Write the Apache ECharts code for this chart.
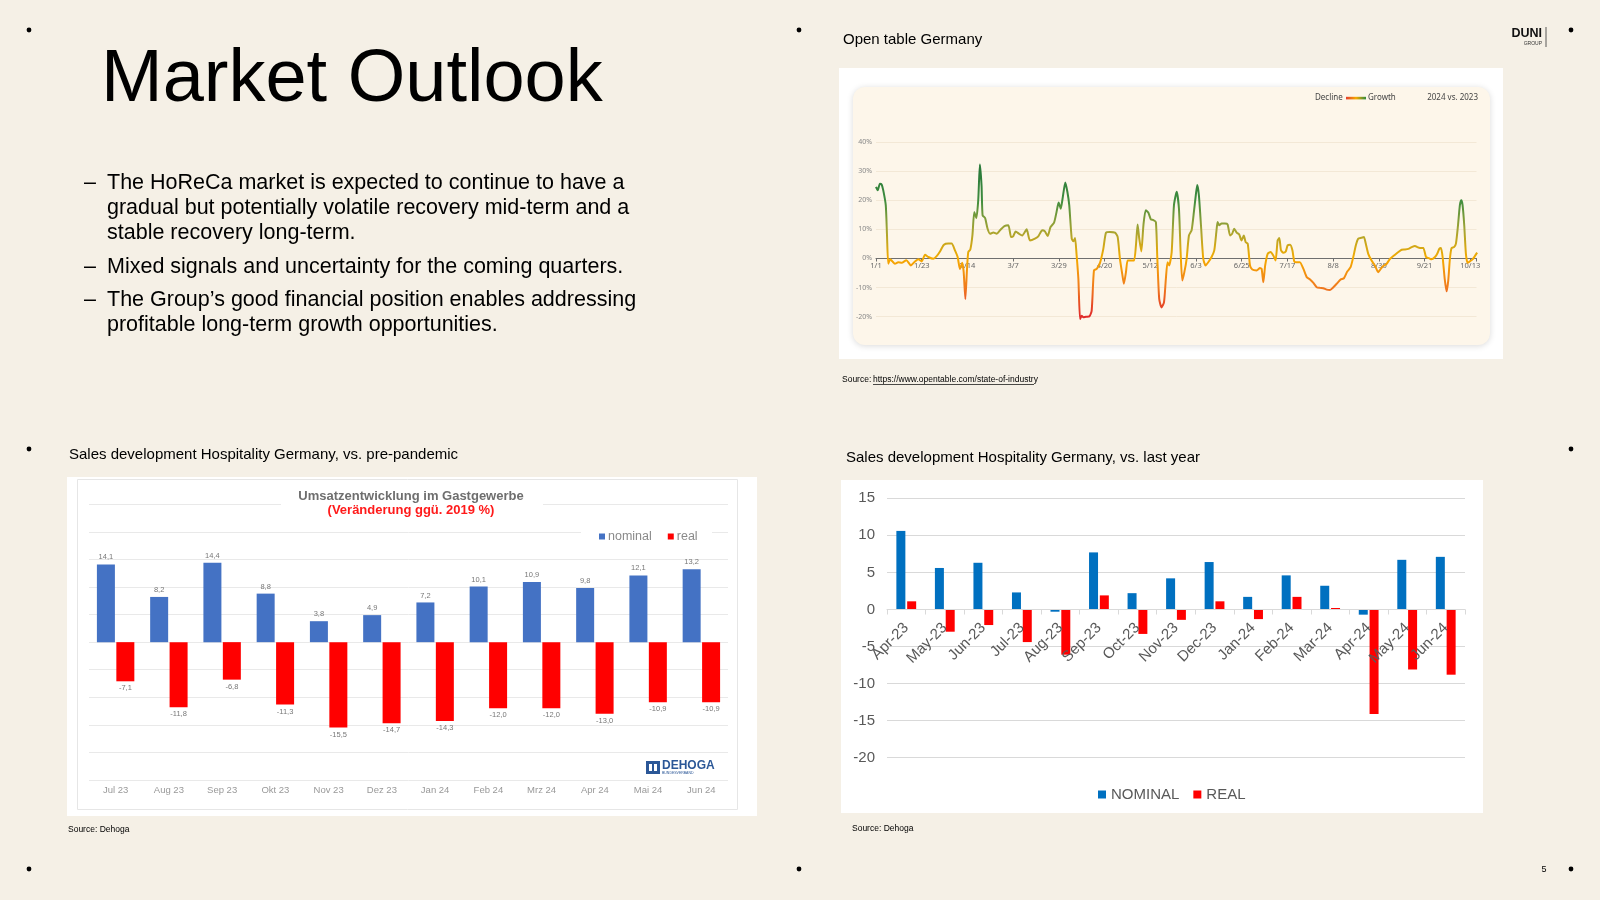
<!DOCTYPE html>
<html><head><meta charset="utf-8">
<script src="https://cdn.jsdelivr.net/npm/echarts@6/dist/echarts.min.js"></script>
<style>html,body{margin:0;padding:0;background:#f5f0e6;}#c{width:1600px;height:900px;}</style>
</head><body><div id="c"></div>
<script>
// ---------- Open table Germany (2024 vs. 2023, % change, by day of year) ----------
const otTickLabels = ['1/1','1/23','2/14','3/7','3/29','4/20','5/12','6/3','6/25','7/17','8/8','8/30','9/21','10/13'];
const otDays = [0,0.8,1.9,2.7,3.5,4.7,5.3,5.9,6.9,7.9,9.1,10.7,12.4,14.6,16.8,18.4,20.4,22,23.6,25.2,27.6,29.2,30.8,32.7,34.8,36.4,38,39.3,40.4,41.5,42.2,43,43.8,44.4,45.4,46.4,47.3,48.3,49.2,50,50.8,51.3,52.5,53.7,54.9,56.5,58.1,59.7,61.8,63.7,65,66.1,67.2,68.8,70.4,72.5,74.1,76.5,78.1,80,81.3,82.6,84,85.7,86.9,87.9,88.9,89.8,91.1,92.1,93,94.2,95,95.8,96.5,97.4,98.2,99,99.8,101,102.7,103.8,104.9,106.2,107.8,109.4,110.7,112.6,115,116.3,117.4,118.5,119.3,120.3,121.1,122.6,124.2,125.1,125.9,126.7,127.7,128.7,129.8,131.1,132.3,133.5,134.7,135.4,136.3,137.4,138.6,139.5,140.3,141.1,142.3,143.4,144.7,145.8,146.6,147.4,148.4,149.5,150.6,151.9,153,153.9,154.6,155.4,156.4,157.5,158.6,159.9,161.5,162.8,163.8,164.4,165.2,166.3,167.9,169.2,170.4,171.4,172.4,173.6,174.8,175.9,177,177.9,178.9,180,181.1,183.2,184.8,185.6,186.4,187.3,188.5,189.9,191.2,192.3,193.3,194.1,194.9,196,197.2,198.1,199.3,200.4,201.3,202.4,204,205.7,207.3,208.9,210.5,212.1,213.7,215.3,216.9,218.5,220.1,221.7,223.6,225.2,226.8,228.4,229.7,231,232.1,233.6,234.8,235.7,236.9,238.5,240.1,241.7,242.9,244.1,245.8,247.4,249.3,251.4,253,254.6,256.2,257.8,259.4,260.5,261.8,263.4,264.7,266.1,267.4,269,270.1,271.1,271.9,272.7,273.7,274.6,275.4,276.2,277,278.2,279.1,280.1,281,281.7,282.3,283.1,283.9,284.7,285.8,287.1,288.2,289.3];
const otValues = [24.6,23.4,25.7,25.4,23.4,18.3,7.9,-1.8,-0.3,-1.0,-1.8,-1.3,-1.5,-0.6,-2.4,-1.3,-0.3,-1.0,1.3,0.5,-0.1,0.8,2.4,4.7,5.1,5.1,2.8,0.5,-3.6,-1.5,-4.7,-13.9,-3.6,2.2,3.1,7.9,16,13.9,20,32.3,25,14.8,13.9,10.2,8.5,8.9,8.5,9.7,11.1,11.4,7.4,7.7,9.3,8.5,7.9,10.0,6.2,6.8,7.6,9.7,9.3,7.7,10.8,12.3,16.0,19.2,17.1,20.6,26.1,22.9,18.3,6.8,5.9,7.0,1.6,-7.0,-20.8,-19.7,-20.2,-20.0,-19.9,-17.9,-4.1,-3.6,-1.5,3.3,8.9,9.1,8.9,7.4,-0.1,-5.3,-8.7,-4.7,-0.7,-0.7,-0.7,4.5,11.7,6.8,2.4,11.4,16.6,15.7,13.4,13.2,12.5,-0.1,-13.9,-16.8,-15.1,-7.0,-1.3,-2.4,2.2,18.3,22.9,17.1,2.2,-7.6,-4.7,-0.1,7.9,9.7,16,21.7,25.2,21.7,11.4,-0.1,-2.4,-1.3,0.5,2.8,9.1,12.5,11.4,12.0,12.0,11.7,7.9,8.5,10.2,8.9,8.2,6.2,7.9,5.6,5.1,-2.4,-3.8,-4.1,-3.3,-3.6,-8.2,-2.4,1.6,2.2,1.0,-0.7,6.2,7.0,2.8,2.0,2.4,4.5,4.7,2.8,-1.0,-1.3,-1.3,-3.6,-6.4,-7.2,-8.4,-9.9,-10.1,-10.2,-10.7,-10.8,-9.9,-8.7,-7.2,-6.8,-4.5,-3.0,0.5,4.7,6.8,7.1,7.4,5.1,1.6,-0.7,-2.4,-4.7,-3.6,-2.6,-1.8,-0.1,1.0,2.2,3.0,3.1,3.3,3.9,4.3,3.9,3.6,3.6,0.5,0.1,-0.3,0.5,1.6,3.3,3.6,0.5,-7.0,-11.3,-7.6,-0.1,3.6,3.9,5.1,11.4,18.3,20.0,18.3,11.4,1.6,-1.5,-1.0,-0.3,0.8,2.0];

// ---------- Dehoga: Umsatzentwicklung im Gastgewerbe (vs. 2019 %) ----------
const dhCategories = ['Jul 23','Aug 23','Sep 23','Okt 23','Nov 23','Dez 23','Jan 24','Feb 24','Mrz 24','Apr 24','Mai 24','Jun 24'];
const dhNominal = [14.1,8.2,14.4,8.8,3.8,4.9,7.2,10.1,10.9,9.8,12.1,13.2];
const dhReal = [-7.1,-11.8,-6.8,-11.3,-15.5,-14.7,-14.3,-12.0,-12.0,-13.0,-10.9,-10.9];

// ---------- Sales development vs. last year ----------
const lyCategories = ['Apr-23','May-23','Jun-23','Jul-23','Aug-23','Sep-23','Oct-23','Nov-23','Dec-23','Jan-24','Feb-24','Mar-24','Apr-24','May-24','Jun-24'];
const lyNominal = [10.6,5.6,6.3,2.3,-0.3,7.7,2.2,4.2,6.4,1.7,4.6,3.2,-0.7,6.7,7.1];
const lyReal = [1.1,-3.0,-2.1,-4.4,-6.1,1.9,-3.3,-1.4,1.1,-1.3,1.7,0.2,-14.1,-8.1,-8.8];

const FF = "'Liberation Sans', Arial, sans-serif";
const OTF = "'Noto Sans', 'DejaVu Sans', sans-serif";

function txt(text, x, y, size, opt) {
  opt = opt || {};
  return {
    type: 'text', z: 100,
    style: {
      text: text, x: x, y: y,
      fill: opt.fill || '#000',
      font: (opt.weight || 'normal') + ' ' + size + 'px ' + (opt.family || FF),
      textAlign: opt.align || 'left', align: opt.align || 'left',
      textVerticalAlign: 'middle', verticalAlign: 'middle'
    }
  };
}
function rect(x, y, w, h, style, z, r) {
  return { type: 'rect', z: z === undefined ? -10 : z, shape: { x: x, y: y, width: w, height: h, r: r || 0 }, style: style };
}
function dot(x, y) { return { type: 'circle', z: 100, shape: { cx: x, cy: y, r: 2.4 }, style: { fill: '#000' } }; }

const BF = 21.5;
const graphics = [
  // panels
  rect(839, 68, 664, 291, { fill: '#ffffff' }, -20),
  rect(853, 87, 637, 258, { fill: '#fdf6ea', shadowBlur: 6, shadowColor: 'rgba(0,0,0,0.15)', shadowOffsetY: 1 }, -15, 12),
  rect(67, 477, 690, 339, { fill: '#ffffff' }, -20),
  rect(77.5, 479.5, 660, 330, { fill: 'none', stroke: '#e6e6e6', lineWidth: 1 }, -15),
  rect(841, 480, 642, 333, { fill: '#ffffff' }, -20),
  // covers behind dehoga title and legend (interrupt gridlines)
  rect(281, 486, 262, 30, { fill: '#ffffff' }, 1),
  rect(581, 525, 131, 14, { fill: '#ffffff' }, 1),
  // slide text
  txt('Market Outlook', 101, 81, 74),
  txt('–', 84, 183.5, BF), txt('The HoReCa market is expected to continue to have a', 107, 183.5, BF),
  txt('gradual but potentially volatile recovery mid-term and a', 107, 208.5, BF),
  txt('stable recovery long-term.', 107, 233, BF),
  txt('–', 84, 267.5, BF), txt('Mixed signals and uncertainty for the coming quarters.', 107, 267.5, BF),
  txt('–', 84, 300, BF), txt('The Group’s good financial position enables addressing', 107, 300, BF),
  txt('profitable long-term growth opportunities.', 107, 325, BF),
  txt('Open table Germany', 843, 39.5, 15),
  txt('Source: ', 842, 380, 8.5),
  txt('https://www.opentable.com/state-of-industry', 873, 380, 8.5),
  { type: 'line', z: 100, shape: { x1: 873, y1: 384.5, x2: 1034, y2: 384.5 }, style: { stroke: '#000', lineWidth: 0.7 } },
  txt('Sales development Hospitality Germany, vs. pre-pandemic', 69, 455, 15),
  txt('Sales development Hospitality Germany, vs. last year', 846, 458, 15),
  txt('Source: Dehoga', 68, 830, 8.5),
  txt('Source: Dehoga', 852, 829, 8.5),
  txt('5', 1544, 870, 9, { align: 'center' }),
  // DUNI logo
  txt('DUNI', 1542, 34, 12.5, { align: 'right', weight: 'bold', fill: '#111' }),
  txt('GROUP', 1542, 43.5, 5, { align: 'right', fill: '#333' }),
  { type: 'line', z: 100, shape: { x1: 1546, y1: 27, x2: 1546, y2: 47 }, style: { stroke: '#333', lineWidth: 0.8 } },
  // dots
  dot(29, 30), dot(799, 30), dot(1571, 30), dot(29, 449), dot(1571, 449), dot(29, 869), dot(799, 869), dot(1571, 869),
  // opentable legend
  txt('Decline', 1315, 98, 8, { fill: '#444', family: OTF }),
  rect(1346, 96.8, 20, 2.6, { fill: new echarts.graphic.LinearGradient(0, 0, 1, 0, [
    { offset: 0, color: '#e53a2f' }, { offset: 0.5, color: '#f5aa00' }, { offset: 1, color: '#2e8b3e' }]) }, 100),
  txt('Growth', 1368, 98, 8, { fill: '#444', family: OTF }),
  txt('2024 vs. 2023', 1478, 98, 8, { fill: '#444', family: OTF, align: 'right' }),
  // dehoga title
  txt('Umsatzentwicklung im Gastgewerbe', 411, 496, 13, { align: 'center', weight: 'bold', fill: '#6e6e6e' }),
  txt('(Veränderung ggü. 2019 %)', 411, 510, 13, { align: 'center', weight: 'bold', fill: '#ff1a1a' }),
  // dehoga logo
  rect(646, 761, 14, 13, { fill: '#2b5797' }, 100),
  rect(649, 764, 3, 7, { fill: '#ffffff' }, 101),
  rect(654, 764, 3, 7, { fill: '#ffffff' }, 101),
  txt('DEHOGA', 662, 766, 12, { weight: 'bold', fill: '#2b5797' }),
  txt('BUNDESVERBAND', 662, 773.5, 3.5, { fill: '#2b5797' })
];

const comma = p => p.value.toFixed(1).replace('.', ',');

const option = {
  backgroundColor: '#f5f0e6',
  animation: false,
  textStyle: { fontFamily: FF },
  graphic: graphics,
  grid: [
    { left: 876, top: 142, width: 600.5, height: 174.7 },
    { left: 89, top: 504.3, width: 639, height: 275.7 },
    { left: 887, top: 498.3, width: 578, height: 259.4 }
  ],
  xAxis: [
    { gridIndex: 0, type: 'value', min: 0, max: 289, interval: 22, offset: -58.2,
      axisLine: { onZero: false, lineStyle: { color: '#6f6f6f', width: 1 } },
      axisTick: { show: true, length: 3, lineStyle: { color: '#6f6f6f' } },
      axisLabel: { fontSize: 7.5, color: '#666', margin: 3, fontFamily: OTF,
        formatter: v => (v % 22 === 0 ? (otTickLabels[v / 22] || '') : '') },
      splitLine: { show: false } },
    { gridIndex: 1, type: 'category', data: dhCategories,
      axisLine: { show: false, onZero: false }, axisTick: { show: false },
      axisLabel: { fontSize: 9.5, color: '#999', margin: 5, interval: 0 } },
    { gridIndex: 2, type: 'category', data: lyCategories, offset: -148.2, zlevel: 1, z: 5,
      axisLine: { onZero: false, lineStyle: { color: '#d9d9d9' } },
      axisTick: { show: true, length: 5, lineStyle: { color: '#d9d9d9' } },
      axisLabel: { rotate: 45, interval: 0, fontSize: 15, color: '#595959', margin: 16 } }
  ],
  yAxis: [
    { gridIndex: 0, type: 'value', min: -20, max: 40, interval: 10,
      axisLine: { show: false }, axisTick: { show: false },
      axisLabel: { formatter: '{value}%', fontSize: 7, color: '#888', margin: 4, fontFamily: OTF },
      splitLine: { lineStyle: { color: '#f3e8d6' } } },
    { gridIndex: 1, type: 'value', min: -25, max: 25, interval: 5,
      axisLine: { show: false }, axisTick: { show: false }, axisLabel: { show: false },
      splitLine: { lineStyle: { color: '#e9e9e9' } } },
    { gridIndex: 2, type: 'value', min: -20, max: 15, interval: 5,
      axisLine: { show: false }, axisTick: { show: false },
      axisLabel: { fontSize: 15, color: '#595959', margin: 12 },
      splitLine: { lineStyle: { color: '#d9d9d9' } } }
  ],
  visualMap: [{ type: 'continuous', show: false, seriesIndex: 0, dimension: 1, min: -20, max: 30,
    inRange: { color: ['#e02a2a', '#f07a1e', '#f5aa00', '#a2a434', '#3f8d3f', '#2a7a3a'] } }],
  legend: [
    { data: ['nominal', 'real'], left: 594, top: 525, icon: 'rect', itemWidth: 6, itemHeight: 6, itemGap: 16,
      textStyle: { fontSize: 12.5, color: '#8a8a8a', padding: [0, 0, 0, -2] } },
    { data: ['NOMINAL', 'REAL'], left: 1093, top: 782, icon: 'rect', itemWidth: 8, itemHeight: 8, itemGap: 14,
      textStyle: { fontSize: 15, color: '#595959' } }
  ],
  series: [
    { name: 'OpenTable', type: 'line', xAxisIndex: 0, yAxisIndex: 0, showSymbol: false, clip: false,
      smooth: 0.2, lineStyle: { width: 2 },
      data: otDays.map((d, i) => [d, otValues[i]]) },
    { name: 'nominal', type: 'bar', xAxisIndex: 1, yAxisIndex: 1, data: dhNominal, barWidth: 18, barGap: '8%',
      itemStyle: { color: '#4472c4' },
      label: { show: true, position: 'top', distance: 3, fontSize: 7.5, color: '#777', formatter: comma } },
    { name: 'real', type: 'bar', xAxisIndex: 1, yAxisIndex: 1, data: dhReal, barWidth: 18, barGap: '8%',
      itemStyle: { color: '#ff0000' },
      label: { show: true, position: 'bottom', distance: 3, fontSize: 7.5, color: '#777', formatter: comma } },
    { name: 'NOMINAL', type: 'bar', xAxisIndex: 2, yAxisIndex: 2, data: lyNominal, barWidth: 9, barGap: '20%',
      itemStyle: { color: '#0070c0' } },
    { name: 'REAL', type: 'bar', xAxisIndex: 2, yAxisIndex: 2, data: lyReal, barWidth: 9, barGap: '20%',
      itemStyle: { color: '#ff0000' } }
  ]
};

const chart = echarts.init(document.getElementById('c'), null, { renderer: 'canvas' });
chart.setOption(option);
</script>
</body></html>
